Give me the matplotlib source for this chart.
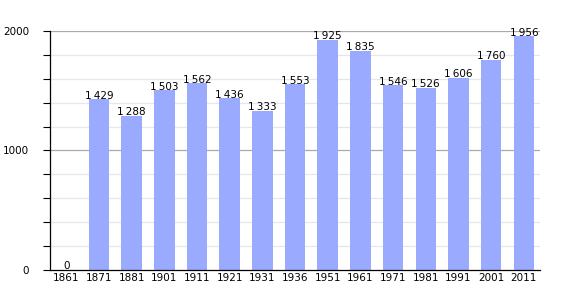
import matplotlib.pyplot as plt
import numpy as np

years = ['1861', '1871', '1881', '1901', '1911', '1921', '1931', '1936',
         '1951', '1961', '1971', '1981', '1991', '2001', '2011']
population = [0, 1429, 1288, 1503, 1562, 1436, 1333, 1553,
              1925, 1835, 1546, 1526, 1606, 1760, 1956]

fig = plt.figure(figsize=(5.7, 3.0), dpi=100)
ax = fig.add_axes([0.0877, 0.1, 0.86, 0.797])

x = np.arange(len(years))
ax.bar(x, population, width=0.63, color='#99aaff', zorder=2)

for xi, v in zip(x, population):
    label = f'{v:,}'.replace(',', '\u2009')
    ax.text(xi, v - 12, label, ha='center', va='bottom', fontsize=7.5, zorder=3)

ax.set_xlim(-0.5, len(years) - 0.5)
ax.set_ylim(0, 2000)
ax.set_xticks(x)
ax.set_xticklabels(years, fontsize=7.5)
ax.tick_params(axis='x', length=0, pad=2)

ax.set_yticks([0, 1000, 2000])
ax.set_yticklabels(['0', '1000', '2000'], fontsize=7.5)
ax.set_yticks(np.arange(0, 2001, 200), minor=True)
ax.tick_params(axis='y', which='both', direction='out', length=5, width=0.8, pad=10)

for yv in np.arange(200, 2001, 200):
    if yv % 1000 == 0:
        ax.axhline(yv, color='#aaaaaa', lw=0.9, zorder=1)
    else:
        ax.axhline(yv, color='#e6e6ee', lw=0.9, zorder=1)

for s in ['top', 'right']:
    ax.spines[s].set_visible(False)
ax.spines['left'].set_linewidth(0.9)
ax.spines['bottom'].set_linewidth(0.9)

fig.savefig('out.png', dpi=100)
